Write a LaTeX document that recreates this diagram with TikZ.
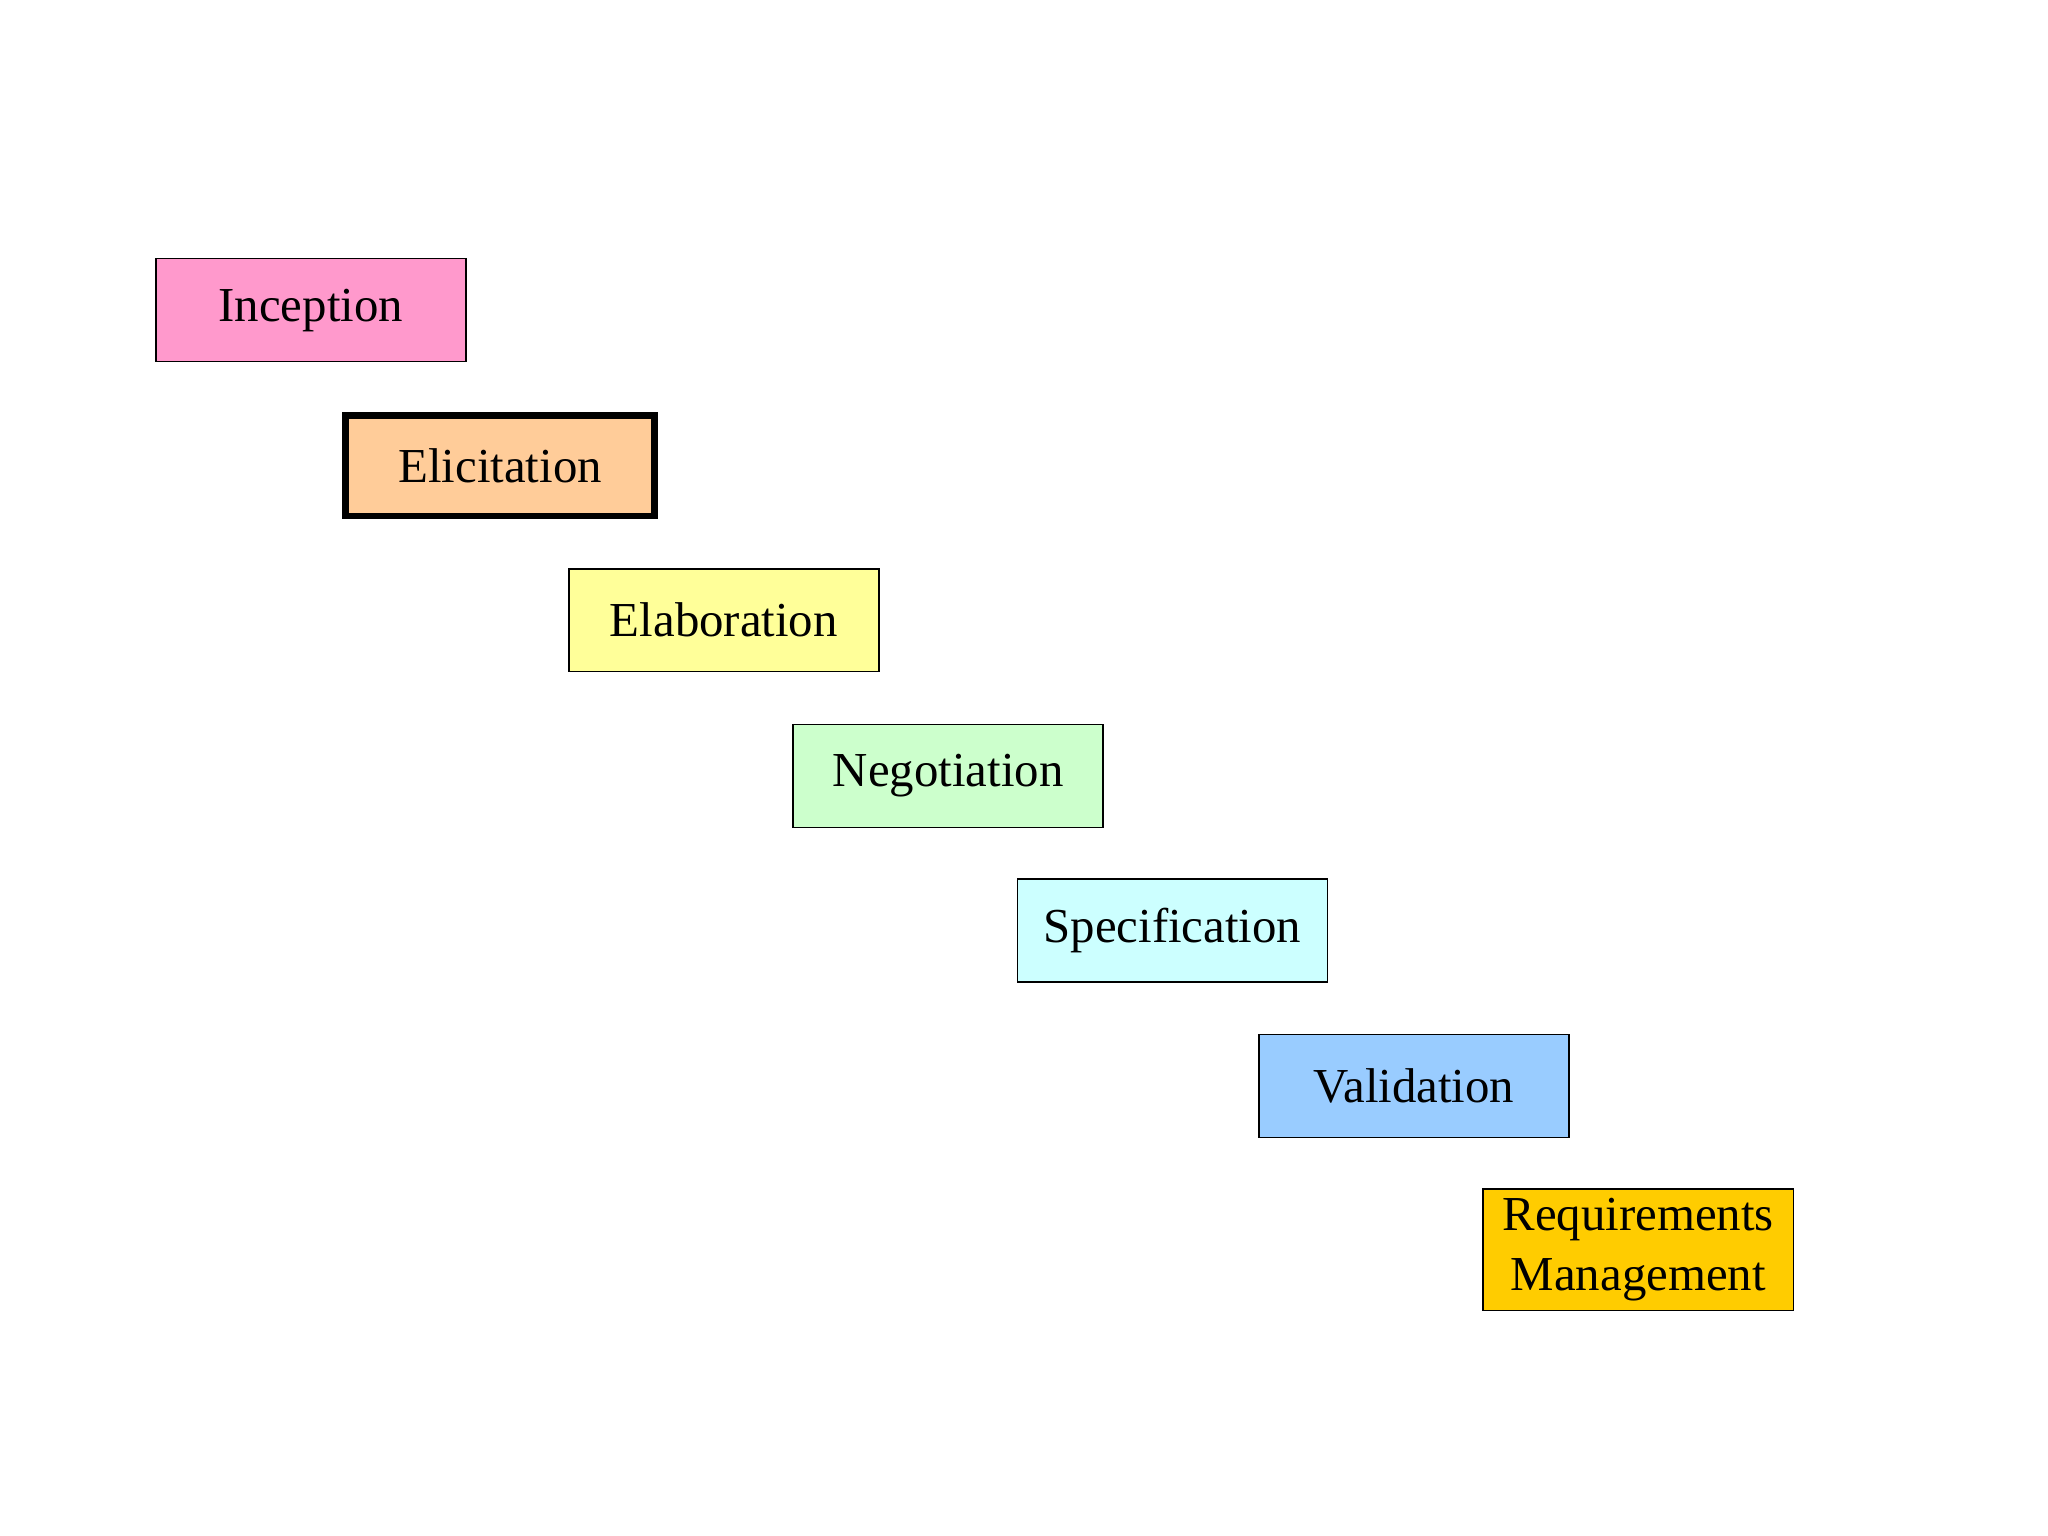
\documentclass[tikz,border=0pt]{standalone}
\usepackage{fontspec}
\setmainfont{Liberation Serif}
\begin{document}
\begin{tikzpicture}[x=1pt,y=-1pt,
  stage/.style={draw=black,line width=1.2pt,minimum width=235pt,minimum height=78pt,inner sep=0pt,align=center,font=\fontsize{37}{46}\selectfont}]
\useasboundingbox (0,0) rectangle (1552,1164);
\node[stage,fill={rgb,255:red,255;green,153;blue,204}] (inc) at (235.5,235) {Inception};
\node[stage,fill={rgb,255:red,255;green,204;blue,153},line width=5pt,minimum width=234pt,minimum height=76pt] (eli) at (379,353) {Elicitation};
\node[stage,fill={rgb,255:red,255;green,255;blue,153}] (ela) at (548.5,470) {Elaboration};
\node[stage,fill={rgb,255:red,204;green,255;blue,204}] (neg) at (718.5,588) {Negotiation};
\node[stage,fill={rgb,255:red,204;green,255;blue,255}] (spe) at (888.5,705) {Specification};
\node[stage,fill={rgb,255:red,153;green,204;blue,255}] (val) at (1071.5,823) {Validation};
\node[stage,fill={rgb,255:red,255;green,204;blue,0},minimum height=92pt] (rm) at (1241.5,947) {Requirements\\Management};
\end{tikzpicture}
\end{document}
